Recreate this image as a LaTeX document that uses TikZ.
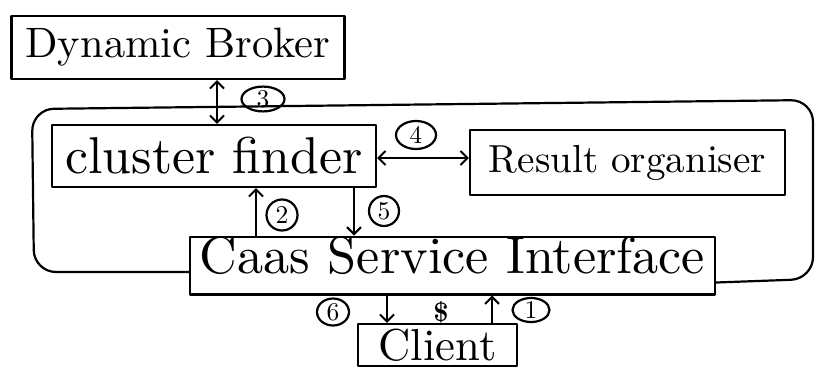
\documentclass[tikz,border=0pt]{standalone}
\usetikzlibrary{arrows.meta,shapes.geometric}
\newcommand{\hw}[2]{\resizebox{#1}{!}{#2}}
\newcommand{\nm}[1]{\resizebox{!}{17pt}{#1}}
\tikzset{
  hand/.style={line width=2.2pt, line cap=round, line join=round},
  box/.style={hand, draw, inner sep=0pt, anchor=center},
  num/.style={hand, draw, ellipse, inner sep=0pt},
  barb/.tip={Straight Barb[length=7pt,width=14pt,line width=2pt]},
  arr/.style={hand, -barb},
  darr/.style={hand, barb-barb},
}
\begin{document}
\begin{tikzpicture}[x=1pt,y=-1pt]
\useasboundingbox (0,0) rectangle (819,370);
% boxes
\node[box, minimum width=333pt, minimum height=63pt] (broker) at (178,47.5) {\hw{305pt}{Dynamic Broker}};
\node[box, minimum width=324pt, minimum height=62pt] (cluster) at (214,156) {\hw{297pt}{cluster finder}};
\node[box, minimum width=315pt, minimum height=65pt] (result) at (627.5,162.5) {\hw{277pt}{Result organiser}};
\node[box, minimum width=525pt, minimum height=55pt, text depth=21pt] (caas) at (452.5,265.5) {\hw{505pt}{Caas Service Interface}};
\node[box, minimum width=159pt, minimum height=42pt] (client) at (437.5,345) {\hw{118pt}{Client}};
% outer container
\draw[hand, rounded corners=22pt] ([yshift=-6.5pt]caas.west) -- (34,272) -- (32,109) -- (813,100) -- (813,279) -- ([yshift=-17pt]caas.east);
% helper coordinates
\coordinate (x3) at (217,0);
\coordinate (y4) at (0,158);
\coordinate (x2) at (256,0);
\coordinate (x5) at (354,0);
\coordinate (x6) at (387,0);
\coordinate (x1) at (492,0);
% connectors
\draw[darr] (broker.south -| x3) -- (cluster.north -| x3);
\draw[darr] (cluster.east |- y4) -- (result.west |- y4);
\draw[arr] (caas.north -| x2) -- (cluster.south -| x2);
\draw[arr] (cluster.south -| x5) -- (caas.north -| x5);
\draw[arr] (caas.south -| x6) -- (client.north -| x6);
\draw[arr] (client.north -| x1) -- (caas.south -| x1);
% numbered labels
\node[num, minimum width=43pt, minimum height=24pt] (n3) at (263,99) {\nm{3}};
\node[num, minimum width=40pt, minimum height=28pt] (n4) at (416,135) {\nm{4}};
\node[num, minimum width=31pt, minimum height=31pt] (n2) at (282,215) {\nm{2}};
\node[num, minimum width=30pt, minimum height=30pt] (n5) at (384,211) {\nm{5}};
\node[num, minimum width=32pt, minimum height=27pt] (n6) at (333,312) {\nm{6}};
\node[num, minimum width=37pt, minimum height=24pt] (n1) at (531,310) {\nm{1}};
\node[inner sep=0pt] (scr) at (441,312) {\resizebox{!}{20pt}{\bfseries\$}};
\end{tikzpicture}
\end{document}
